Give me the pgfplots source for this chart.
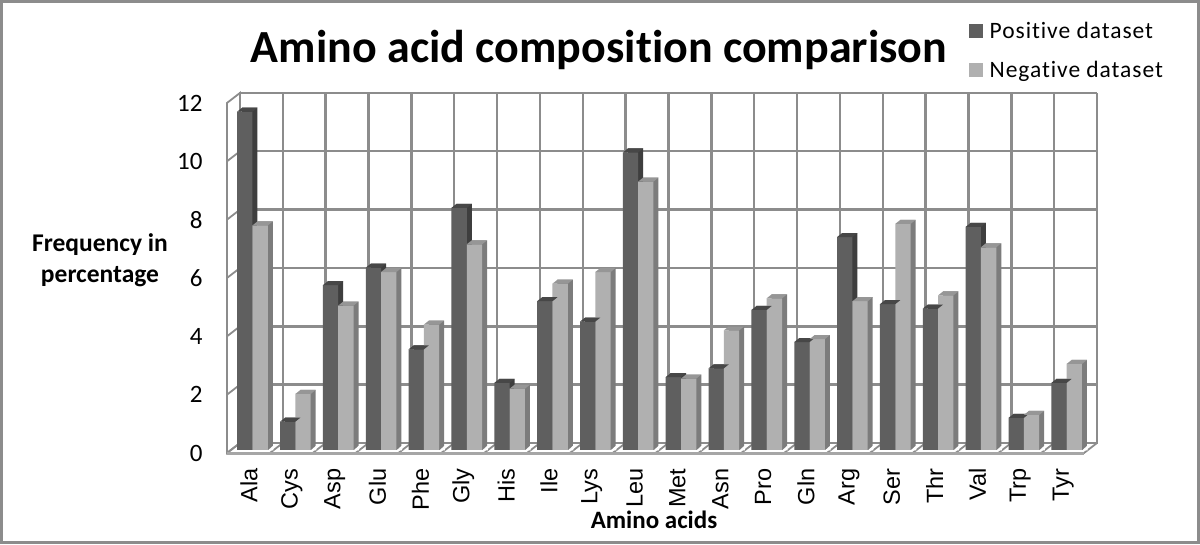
\documentclass[border=0pt]{standalone}
\usepackage{pgfplots}
\usepackage{pgfplotstable}
\usepackage{fontspec}
\pgfplotsset{compat=1.18}
\setmainfont[Ligatures=NoCommon]{Carlito}
\newfontfamily\arialf{Liberation Sans}
\newfontfamily\legf[LetterSpace=4,Ligatures=NoCommon]{Carlito}
\definecolor{posF}{HTML}{5F5F5F}
\definecolor{posT}{HTML}{474747}
\definecolor{posS}{HTML}{3E3E3E}
\definecolor{negF}{HTML}{B0B0B0}
\definecolor{negT}{HTML}{969696}
\definecolor{negS}{HTML}{7C7C7C}
\definecolor{gridc}{HTML}{8C8C8C}
\pgfdeclareplotmark{topP}{\pgfpathmoveto{\pgfqpoint{-15.3pt}{0pt}}\pgfpathlineto{\pgfqpoint{0pt}{0pt}}\pgfpathlineto{\pgfqpoint{5pt}{4pt}}\pgfpathlineto{\pgfqpoint{-10.3pt}{4pt}}\pgfpathclose\pgfusepathqfill}
\pgfdeclareplotmark{topN}{\pgfpathmoveto{\pgfqpoint{0pt}{0pt}}\pgfpathlineto{\pgfqpoint{15.3pt}{0pt}}\pgfpathlineto{\pgfqpoint{20.3pt}{4pt}}\pgfpathlineto{\pgfqpoint{5pt}{4pt}}\pgfpathclose\pgfusepathqfill}
\pgfdeclareplotmark{baseN}{\pgfpathmoveto{\pgfqpoint{15.3pt}{-0.5pt}}\pgfpathlineto{\pgfqpoint{21pt}{-0.5pt}}\pgfpathlineto{\pgfqpoint{21pt}{4pt}}\pgfpathlineto{\pgfqpoint{20.3pt}{4pt}}\pgfpathclose\pgfusepathqfill}
\pgfplotstableread{
i p n
0 11.6 7.7
1 0.97 1.92
2 5.65 4.95
3 6.25 6.1
4 3.45 4.3
5 8.3 7.05
6 2.3 2.1
7 5.1 5.7
8 4.4 6.1
9 10.2 9.2
10 2.5 2.45
11 2.8 4.1
12 4.8 5.2
13 3.7 3.8
14 7.3 5.1
15 5.0 7.75
16 4.85 5.3
17 7.65 6.95
18 1.1 1.2
19 2.3 2.95
}\datatab
\begin{document}
\begin{tikzpicture}
\useasboundingbox (0,0) rectangle (1200pt,544pt);
\fill[white] (0,0) rectangle (1200pt,544pt);
\draw[color=gridc,line width=3pt] (1.5pt,1.5pt) rectangle (1198.5pt,542.5pt);
\node[font=\fontsize{46}{50}\selectfont\bfseries] at (599pt,494pt) {Amino acid composition comparison};
\node[font=\fontsize{25.5}{31}\selectfont\bfseries,align=center] at (100pt,284pt) {Frequency in\\percentage};
\node[font=\fontsize{25}{29}\selectfont\bfseries] at (654pt,24pt) {Amino acids};
\begin{axis}[
  at={(227pt,91pt)},anchor=south west,
  scale only axis,
  width=858pt,height=353.2pt,
  xmin=-0.595,xmax=19.428,
  ymin=-0.103,ymax=12.005,
  clip=false,
  axis line style={draw=none},
  tick style={draw=none},
  xtick={0,...,19},
  xticklabels={Ala,Cys,Asp,Glu,Phe,Gly,His,Ile,Lys,Leu,Met,Asn,Pro,Gln,Arg,Ser,Thr,Val,Trp,Tyr},
  xticklabel style={font=\arialf\fontsize{23.5}{25}\selectfont,xshift=-3.5pt,yshift=-12pt,rotate=90,anchor=east},
  ytick={0,2,...,12},
  yticklabel style={font=\fontsize{25}{27}\selectfont,yshift=-3pt,xshift=-21pt},
  /pgf/number format/assume math mode=true,
  legend style={at={(axis cs:16.64,14.8)},anchor=north west,draw=none,fill=none,font=\legf\fontsize{23.5}{26}\selectfont,row sep=17pt,legend cell align=left},
]
\addlegendimage{legend image code/.code={\fill[posF,draw=none] (0pt,-7pt) rectangle (14pt,7pt);\path[draw=none,fill=none] (0pt,0pt) -- (19pt,0pt);}}
\addlegendentry{Positive dataset}
\addlegendimage{legend image code/.code={\fill[negF,draw=none] (0pt,-7pt) rectangle (14pt,7pt);\path[draw=none,fill=none] (0pt,0pt) -- (19pt,0pt);}}
\addlegendentry{Negative dataset}
% back wall: horizontals
\addplot[gridc,line width=2.4pt,line join=miter] coordinates {(-0.292,0.24)(19.708,0.24)(19.708,2.24)(-0.292,2.24)(-0.292,4.24)(19.708,4.24)(19.708,6.24)(-0.292,6.24)(-0.292,8.24)(19.708,8.24)(19.708,10.24)(-0.292,10.24)(-0.292,12.24)(19.708,12.24)};
% back wall: verticals
\addplot[gridc,line width=2.4pt] coordinates {(-0.292,0.24)(-0.292,12.24)(0.708,12.24)(0.708,0.24)(1.708,0.24)(1.708,12.24)(2.708,12.24)(2.708,0.24)(3.708,0.24)(3.708,12.24)(4.708,12.24)(4.708,0.24)(5.708,0.24)(5.708,12.24)(6.708,12.24)(6.708,0.24)(7.708,0.24)(7.708,12.24)(8.708,12.24)(8.708,0.24)(9.708,0.24)(9.708,12.24)(10.708,12.24)(10.708,0.24)(11.708,0.24)(11.708,12.24)(12.708,12.24)(12.708,0.24)(13.708,0.24)(13.708,12.24)(14.708,12.24)(14.708,0.24)(15.708,0.24)(15.708,12.24)(16.708,12.24)(16.708,0.24)(17.708,0.24)(17.708,12.24)(18.708,12.24)(18.708,0.24)(19.708,0.24)(19.708,12.24)};
% left wall
\addplot[gridc,line width=1.8pt] coordinates {(-0.292,0.24)(-0.595,-0.103)(-0.595,1.897)(-0.292,2.24)(-0.292,4.24)(-0.595,3.897)(-0.595,5.897)(-0.292,6.24)(-0.292,8.24)(-0.595,7.897)(-0.595,9.897)(-0.292,10.24)(-0.292,12.24)(-0.595,11.897)(-0.595,-0.103)};
% floor
\addplot[gridc,line width=1.8pt] coordinates {(-0.595,-0.103)(-0.292,0.24)(0.708,0.24)(0.405,-0.103)(1.405,-0.103)(1.708,0.24)(2.708,0.24)(2.405,-0.103)(3.405,-0.103)(3.708,0.24)(4.708,0.24)(4.405,-0.103)(5.405,-0.103)(5.708,0.24)(6.708,0.24)(6.405,-0.103)(7.405,-0.103)(7.708,0.24)(8.708,0.24)(8.405,-0.103)(9.405,-0.103)(9.708,0.24)(10.708,0.24)(10.405,-0.103)(11.405,-0.103)(11.708,0.24)(12.708,0.24)(12.405,-0.103)(13.405,-0.103)(13.708,0.24)(14.708,0.24)(14.405,-0.103)(15.405,-0.103)(15.708,0.24)(16.708,0.24)(16.405,-0.103)(17.405,-0.103)(17.708,0.24)(18.708,0.24)(18.405,-0.103)(19.405,-0.103)(19.708,0.24)};
\addplot[color=gray!70,line width=3pt] coordinates {(-0.595,-0.13)(19.405,-0.13)};
% positive series
\addplot[ybar,bar width=15.3pt,bar shift=-2.65pt,fill=posS,draw=none] table[x=i,y expr=\thisrow{p}+0.137] {\datatab};
\addplot[only marks,mark=topP,mark options={fill=posT,draw=none,color=posT}] table[x=i,y=p] {\datatab};
\addplot[ybar,bar width=15.3pt,bar shift=-7.65pt,fill=posF,draw=none] table[x=i,y=p] {\datatab};
% negative series
\addplot[ybar,bar width=15.3pt,bar shift=12.65pt,fill=negS,draw=none] table[x=i,y expr=\thisrow{n}+0.137] {\datatab};
\addplot[only marks,mark=baseN,mark options={fill=white,draw=none,color=white}] table[x=i,y expr=0] {\datatab};
\addplot[only marks,mark=topN,mark options={fill=negT,draw=none,color=negT}] table[x=i,y=n] {\datatab};
\addplot[ybar,bar width=15.3pt,bar shift=7.65pt,fill=negF,draw=none] table[x=i,y=n] {\datatab};
\end{axis}
\end{tikzpicture}
\end{document}
